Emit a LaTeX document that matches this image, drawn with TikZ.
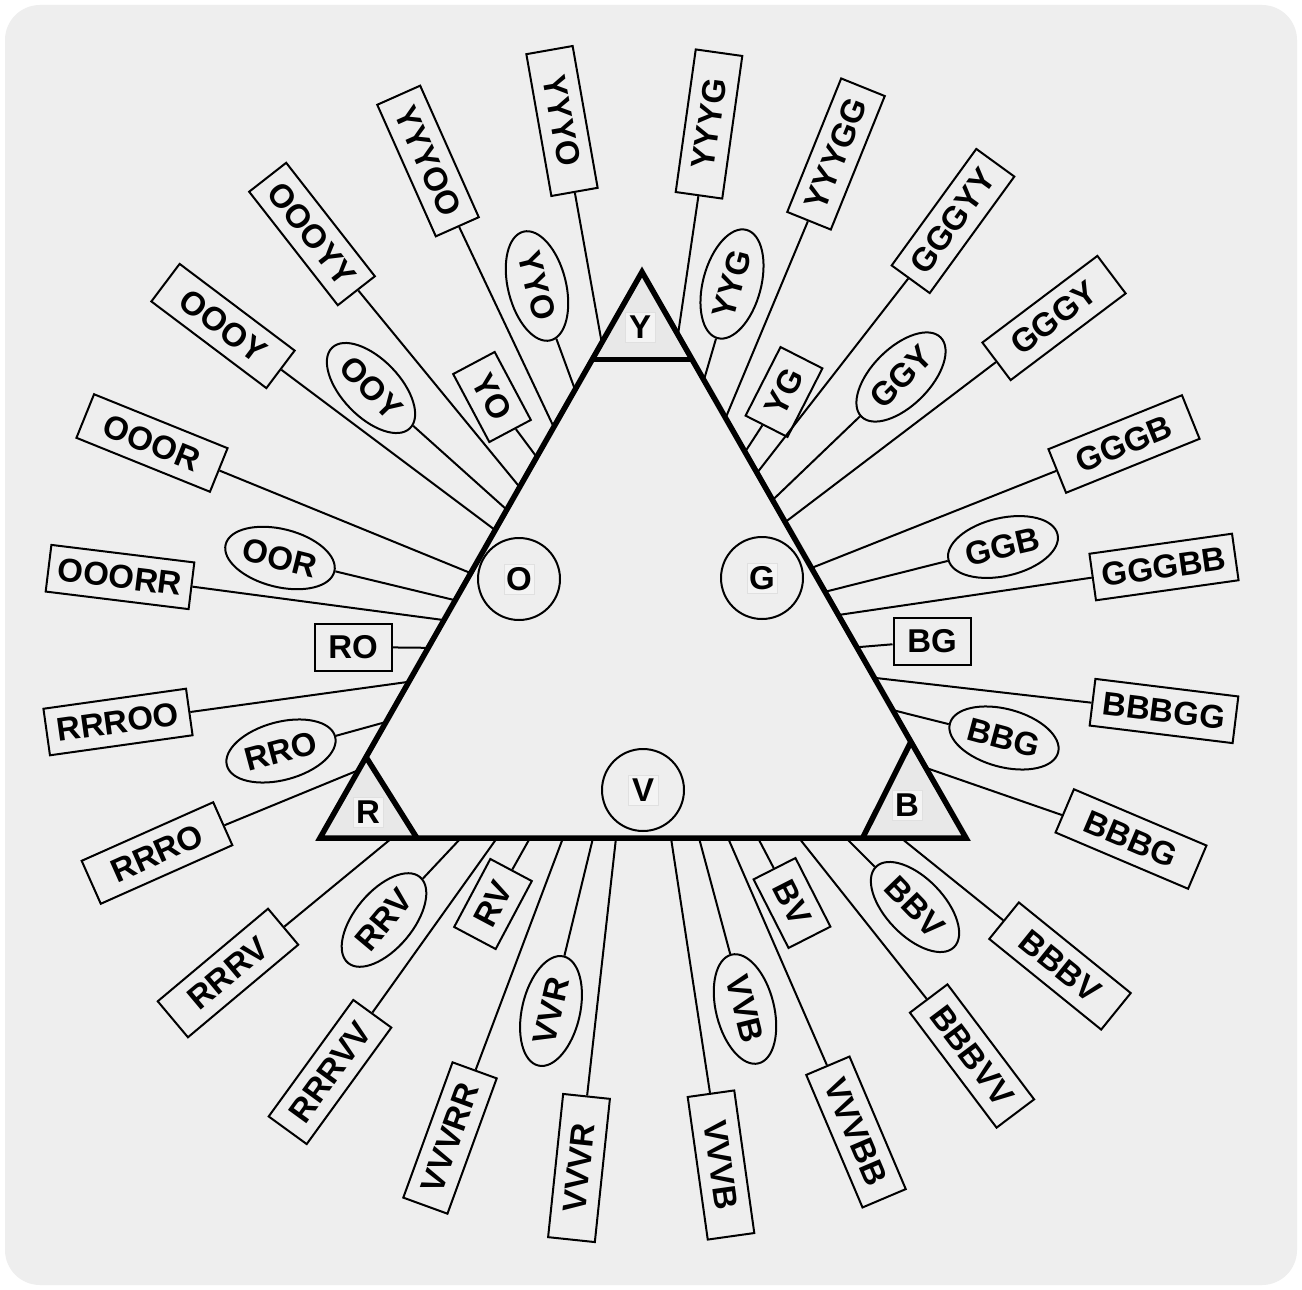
\documentclass[tikz,border=0pt]{standalone}
\usepackage{fontspec}
\setmainfont{Liberation Sans}
\usetikzlibrary{shapes.geometric,calc}
\definecolor{paper}{RGB}{238,238,238}
\definecolor{paperlight}{RGB}{244,244,244}
\definecolor{cornerfill}{RGB}{232,232,232}
\begin{document}
\begin{tikzpicture}[x=1pt,y=-1pt,
  every node/.style={font=\fontsize{33}{36}\selectfont\bfseries},
  lab/.style={draw, line width=2pt, fill=paper, inner sep=0pt},
  longbox/.style={lab, rectangle, minimum width=144pt, minimum height=47pt},
  shortbox/.style={lab, rectangle, minimum width=77pt, minimum height=47pt},
  oval/.style={lab, ellipse, minimum width=112pt, minimum height=58pt},
  ring/.style={lab, circle, minimum size=82pt,
    path picture={\filldraw[fill=paperlight, draw=black!12, line width=0.6pt]
      ([xshift=-15pt,yshift=-15pt]path picture bounding box.center) rectangle
      ([xshift=15pt,yshift=15pt]path picture bounding box.center);}},
  chip/.style={draw=black!12, line width=0.6pt, fill=paperlight, minimum size=30pt, inner sep=0pt},
  conn/.style={line width=2pt},
  heavy/.style={line width=5.5pt, line join=miter}
]
\useasboundingbox (0,0) rectangle (1302,1290);
\fill[white] (0,0) rectangle (1302,1290);
\fill[paper, rounded corners=35pt] (5,5) rectangle (1297,1285);

% main triangle
\coordinate (TA) at (642,272);
\coordinate (TL) at (320,838);
\coordinate (TR) at (966,838);
% corner triangles
\coordinate (y1) at ($(TA)!0.155!(TL)$);
\coordinate (y2) at ($(TA)!0.155!(TR)$);
\coordinate (r1) at ($(TL)!0.143!(TA)$);
\coordinate (r2) at ($(TL)!0.150!(TR)$);
\coordinate (b1) at ($(TR)!0.170!(TA)$);
\coordinate (b2) at ($(TR)!0.160!(TL)$);
\fill[cornerfill] (TA) -- (y1) -- (y2) -- cycle;
\fill[cornerfill] (TL) -- (r1) -- (r2) -- cycle;
\fill[cornerfill] (TR) -- (b1) -- (b2) -- cycle;
\draw[heavy] (TA) -- (TL) -- (TR) -- cycle;
\draw[heavy] (y1) -- (y2);
\draw[heavy] (r1) -- (r2);
\draw[heavy] (b1) -- (b2);

\node[chip] (lY) at (640,327) {Y};
\node[chip] (lR) at (368,812) {R};
\node[chip] (lB) at (907,805) {B};

\node[ring] (cO) at (519,579) {O};
\node[ring] (cG) at (762,578) {G};
\node[ring] (cV) at (643,790) {V};

% edge points, left side
\coordinate (e-yyyo)  at ($(TA)!0.125!(TL)$);
\coordinate (e-yyo)   at ($(TA)!0.208!(TL)$);
\coordinate (e-yyyoo) at ($(TA)!0.274!(TL)$);
\coordinate (e-yo)    at ($(TA)!0.327!(TL)$);
\coordinate (e-oooyy) at ($(TA)!0.380!(TL)$);
\coordinate (e-ooy)   at ($(TA)!0.420!(TL)$);
\coordinate (e-oooy)  at ($(TA)!0.456!(TL)$);
\coordinate (e-ooor)  at ($(TA)!0.532!(TL)$);
\coordinate (e-oor)   at ($(TA)!0.580!(TL)$);
\coordinate (e-ooorr) at ($(TA)!0.615!(TL)$);
\coordinate (e-ro)    at ($(TA)!0.664!(TL)$);
\coordinate (e-rrroo) at ($(TA)!0.724!(TL)$);
\coordinate (e-rro)   at ($(TA)!0.795!(TL)$);
\coordinate (e-rrro)  at ($(TA)!0.880!(TL)$);
% right side
\coordinate (e-yyyg)  at ($(TA)!0.111!(TR)$);
\coordinate (e-yyg)   at ($(TA)!0.191!(TR)$);
\coordinate (e-yyygg) at ($(TA)!0.258!(TR)$);
\coordinate (e-yg)    at ($(TA)!0.318!(TR)$);
\coordinate (e-gggyy) at ($(TA)!0.355!(TR)$);
\coordinate (e-ggy)   at ($(TA)!0.403!(TR)$);
\coordinate (e-gggy)  at ($(TA)!0.442!(TR)$);
\coordinate (e-gggb)  at ($(TA)!0.523!(TR)$);
\coordinate (e-ggb)   at ($(TA)!0.565!(TR)$);
\coordinate (e-gggbb) at ($(TA)!0.606!(TR)$);
\coordinate (e-bg)    at ($(TA)!0.663!(TR)$);
\coordinate (e-bbbgg) at ($(TA)!0.717!(TR)$);
\coordinate (e-bbg)   at ($(TA)!0.774!(TR)$);
\coordinate (e-bbbg)  at ($(TA)!0.876!(TR)$);
% bottom
\coordinate (e-rrrv)  at (392,838);
\coordinate (e-rrv)   at (461,838);
\coordinate (e-rrrvv) at (497,838);
\coordinate (e-rv)    at (530,838);
\coordinate (e-vvvrr) at (563,838);
\coordinate (e-vvr)   at (593,838);
\coordinate (e-vvvr)  at (616,838);
\coordinate (e-vvvb)  at (671,838);
\coordinate (e-vvb)   at (699,838);
\coordinate (e-vvvbb) at (728,838);
\coordinate (e-bv)    at (758,838);
\coordinate (e-bbbvv) at (799,838);
\coordinate (e-bbv)   at (846,838);
\coordinate (e-bbbv)  at (901,838);

% labels, left and upper left
\node[longbox, rotate=-80] (yyyo)  at (562,121) {YYYO};
\node[oval,    rotate=-76] (yyo)   at (537,286) {YYO};
\node[longbox, rotate=-66] (yyyoo) at (428,161) {YYYOO};
\node[shortbox,rotate=-62] (yo)    at (492,397) {YO};
\node[longbox, rotate=-52] (oooyy) at (312,234) {OOOYY};
\node[oval,    rotate=-46] (ooy)   at (371,388) {OOY};
\node[longbox, rotate=-37] (oooy)  at (223,326) {OOOY};
\node[longbox, rotate=-22] (ooor)  at (152,443) {OOOR};
\node[oval,    rotate=-14] (oor)   at (280,558) {OOR};
\node[longbox, rotate=-7]  (ooorr) at (120,577) {OOORR};
\node[shortbox]            (ro)    at (353,647) {RO};
\node[longbox, rotate=8]   (rrroo) at (118,722) {RRROO};
\node[oval,    rotate=15]  (rro)   at (281,751) {RRO};
\node[longbox, rotate=24]  (rrro)  at (157,853) {RRRO};
% lower left
\node[longbox, rotate=40]  (rrrv)  at (228,973) {RRRV};
\node[oval,    rotate=50]  (rrv)   at (384,920) {RRV};
\node[shortbox,rotate=62]  (rv)    at (493,904) {RV};
\node[longbox, rotate=54]  (rrrvv) at (330,1072) {RRRVV};
\node[longbox, rotate=70]  (vvvrr) at (450,1138) {VVVRR};
\node[oval,    rotate=77]  (vvr)   at (551,1011) {VVR};
\node[longbox, rotate=84]  (vvvr)  at (579,1168) {VVVR};
% upper right
\node[longbox, rotate=82]  (yyyg)  at (709,124) {YYYG};
\node[oval,    rotate=75]  (yyg)   at (732,284) {YYG};
\node[longbox, rotate=68]  (yyygg) at (836,154) {YYYGG};
\node[shortbox,rotate=63]  (yg)    at (784,392) {YG};
\node[longbox, rotate=54]  (gggyy) at (953,221) {GGGYY};
\node[oval,    rotate=45]  (ggy)   at (901,377) {GGY};
\node[longbox, rotate=37]  (gggy)  at (1054,318) {GGGY};
\node[longbox, rotate=22]  (gggb)  at (1124,444) {GGGB};
\node[oval,    rotate=13]  (ggb)   at (1003,547) {GGB};
\node[longbox, rotate=8]   (gggbb) at (1164,567) {GGGBB};
\node[shortbox]            (bg)    at (932,641) {BG};
\node[longbox, rotate=-7]  (bbbgg) at (1164,711) {BBBGG};
\node[oval,    rotate=-15] (bbg)   at (1004,738) {BBG};
\node[longbox, rotate=-23] (bbbg)  at (1131,839) {BBBG};
% lower right
\node[longbox, rotate=-39] (bbbv)  at (1060,966) {BBBV};
\node[oval,    rotate=-46] (bbv)   at (915,907) {BBV};
\node[longbox, rotate=-53] (bbbvv) at (972,1056) {BBBVV};
\node[shortbox,rotate=-63] (bv)    at (792,903) {BV};
\node[longbox, rotate=-67] (vvvbb) at (856,1132) {VVVBB};
\node[oval,    rotate=-76] (vvb)   at (745,1009) {VVB};
\node[longbox, rotate=-82] (vvvb)  at (721,1165) {VVVB};

% connectors
\foreach \n in {yyyo,yyo,yyyoo,yo,oooyy,ooy,oooy,ooor,oor,ooorr,ro,rrroo,rro,rrro,
                rrrv,rrv,rv,rrrvv,vvvrr,vvr,vvvr,
                yyyg,yyg,yyygg,yg,gggyy,ggy,gggy,gggb,ggb,gggbb,bg,bbbgg,bbg,bbbg,
                bbbv,bbv,bbbvv,bv,vvvbb,vvb,vvvb}
  \draw[conn] (e-\n) -- (\n);
\end{tikzpicture}
\end{document}
